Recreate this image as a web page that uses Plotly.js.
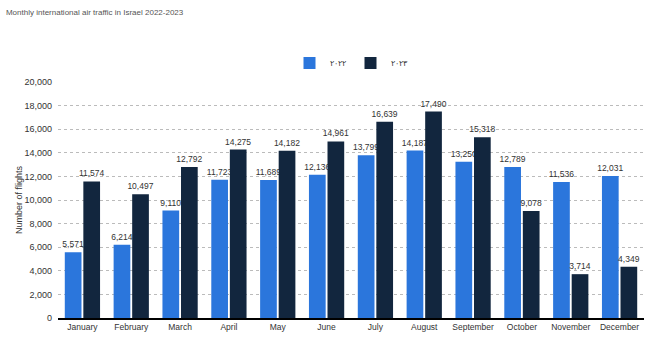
<!DOCTYPE html>
<html><head><meta charset="utf-8">
<script src="https://cdn.plot.ly/plotly-3.0.1.min.js"></script>
<style>body{margin:0;background:#fff}#c{width:662px;height:362px}</style>
</head><body><div id="c"></div>
<script>
const months = ["January","February","March","April","May","June","July","August","September","October","November","December"];
const values2022 = [5571,6214,9110,11723,11689,12136,13799,14187,13250,12789,11536,12031];
const values2023 = [11574,10497,12792,14275,14182,14961,16639,17490,15318,9078,3714,4349];
const seriesNames = ["٢٠٢٢","٢٠٢٣"];
const yTicks = [0,2000,4000,6000,8000,10000,12000,14000,16000,18000,20000];
const fmt = v => v.toLocaleString('en-US');
const font = "Liberation Sans, Arial, sans-serif";
const traces = [
 {type:'bar', name:seriesNames[0], x:months, y:values2022, marker:{color:'#2b76dc'},
  text:values2022.map(fmt), textposition:'outside', constraintext:'none', cliponaxis:false, textfont:{size:8.5,color:'#333',family:font}},
 {type:'bar', name:seriesNames[1], x:months, y:values2023, marker:{color:'#12263e'},
  text:values2023.map(fmt), textposition:'outside', constraintext:'none', cliponaxis:false, textfont:{size:8.5,color:'#333',family:font}}
];
const layout = {
 width:662, height:362, margin:{l:58,r:18,t:82,b:44},
 paper_bgcolor:'#fff', plot_bgcolor:'#fff',
 font:{family:font, size:9, color:'#333'},
 title:{text:'Monthly international air traffic in Israel 2022-2023', x:0.009, xanchor:'left', y:0.975, yanchor:'top', font:{size:8,color:'#555',family:font}},
 barmode:'group', bargap:0.24, bargroupgap:0.1,
 showlegend:true,
 legend:{orientation:'h', x:0.5, xanchor:'center', yref:'paper', yanchor:'middle', font:{size:8,color:'#333'}, itemwidth:30},
 xaxis:{tickfont:{size:8.5,color:'#333'}, tickangle:0, showline:true, linecolor:'#000', linewidth:2, ticks:'', fixedrange:true},
 yaxis:{range:[0,20000], tickvals:yTicks, ticktext:yTicks.map(fmt), tickfont:{size:9,color:'#333'},
  gridcolor:'#bbb', griddash:'dot', gridwidth:1, zeroline:false, ticklabelstandoff:5,
  title:{text:'Number of flights', font:{size:9,color:'#333'}, standoff:0}}
};
layout.legend.y = 1 + (82-63)/236;
Plotly.newPlot('c', traces, layout, {displayModeBar:false, staticPlot:true});
</script></body></html>
